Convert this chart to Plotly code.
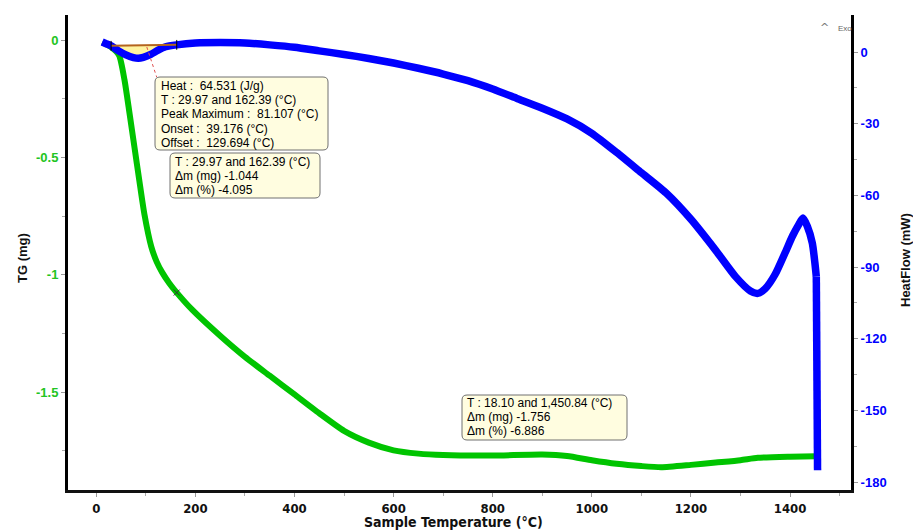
import numpy as np
import plotly.graph_objects as go

# ---- data ----
tg_temp = [12, 30, 46, 57, 67, 77, 87, 97, 111, 122, 133, 147, 162, 194, 250, 300, 350, 400,
           450, 500, 550, 600, 650, 700, 800, 900, 950, 1000, 1050, 1100, 1140, 1200, 1250,
           1300, 1335, 1400, 1452]
tg_mg = [-0.01, -0.03, -0.065, -0.17, -0.31, -0.455, -0.6, -0.74, -0.88, -0.945, -0.99, -1.035,
         -1.075, -1.15, -1.26, -1.35, -1.43, -1.51, -1.59, -1.665, -1.715, -1.748, -1.762,
         -1.768, -1.77, -1.766, -1.772, -1.79, -1.805, -1.815, -1.82, -1.81, -1.80, -1.79,
         -1.78, -1.775, -1.773]

hf_temp = [12, 20, 30, 45, 60, 75, 85, 95, 110, 125, 140, 162, 200, 250, 300, 350, 400, 450,
           500, 550, 600, 650, 700, 750, 800, 850, 900, 950, 1000, 1050, 1100, 1150, 1200,
           1250, 1290, 1320, 1335, 1350, 1370, 1390, 1405, 1418, 1426, 1435, 1445, 1450,
           1453, 1454, 1455, 1455.5]
hf_mw = [4.2, 3.5, 2.6, 0.5, -1.2, -2.3, -2.6, -2.2, -1.0, 0.8, 2.2, 3.0, 3.8, 4.0, 3.8, 3.0,
         2.0, 0.5, -1.0, -2.7, -4.6, -6.8, -9.2, -12.0, -15.5, -19.5, -23.5, -28.0, -34.0,
         -42.0, -50.5, -59.0, -70.0, -83.0, -94.0, -100.0, -101.0, -99.0, -93.0, -84.0,
         -77.0, -72.0, -69.5, -73.0, -80.0, -88.0, -94.0, -130.0, -160.0, -175.0]

peak_limits = [29.97, 162.39]

x_ticks = [0, 200, 400, 600, 800, 1000, 1200, 1400]
tg_ticks = [0, -0.5, -1, -1.5]
tg_labels = ["0", "-0.5", "-1", "-1.5"]
hf_ticks = [0, -30, -60, -90, -120, -150, -180]
hf_labels = ["0", "-30", "-60", "-90", "-120", "-150", "-180"]

box1 = ["Heat :  64.531 (J/g)", "T : 29.97 and 162.39 (°C)", "Peak Maximum :  81.107 (°C)",
        "Onset :  39.176 (°C)", "Offset :  129.694 (°C)"]
box2 = ["T : 29.97 and 162.39 (°C)", "Δm (mg) -1.044", "Δm (%) -4.095"]
box3 = ["T : 18.10 and 1,450.84 (°C)", "Δm (mg) -1.756", "Δm (%) -6.886"]

GREEN = "#00c400"
GREEN_T = "#22c422"
BLUE = "#0000ff"

# plot-area geometry in pixels (used only to place boxes/labels)
L, R, T, B = 68, 851, 15, 490
PW, PH = R - L, B - T


def px(xp):
    return (xp - L) / PW


def py(yp):
    return (B - yp) / PH


fig = go.Figure()

# peak integration area (yellow) between curve and baseline
ht = np.array(hf_temp)
hv = np.array(hf_mw)
b0 = float(np.interp(peak_limits[0], ht, hv))
b1 = float(np.interp(peak_limits[1], ht, hv))
inside = (ht > peak_limits[0]) & (ht < peak_limits[1])
poly_x = [peak_limits[0]] + list(ht[inside]) + [peak_limits[1], peak_limits[0]]
poly_y = [b0] + list(hv[inside]) + [b1, b0]
fig.add_trace(go.Scatter(x=poly_x, y=poly_y, yaxis="y2", mode="lines", fill="toself",
                         fillcolor="#fff3a0", line=dict(width=0, shape="spline", smoothing=0.6),
                         hoverinfo="skip", showlegend=False))

fig.add_trace(go.Scatter(x=tg_temp, y=tg_mg, mode="lines", line=dict(color=GREEN, width=6,
                         shape="spline", smoothing=0.6), showlegend=False))
n_smooth = hf_temp.index(1453) + 1
fig.add_trace(go.Scatter(x=hf_temp[:n_smooth], y=hf_mw[:n_smooth], yaxis="y2", mode="lines",
                         line=dict(color=BLUE, width=7.5, shape="spline", smoothing=0.6),
                         showlegend=False))
fig.add_trace(go.Scatter(x=hf_temp[n_smooth - 1:], y=hf_mw[n_smooth - 1:], yaxis="y2",
                         mode="lines", line=dict(color=BLUE, width=7.5), showlegend=False))

# baseline of the peak
fig.add_trace(go.Scatter(x=peak_limits, y=[b0, b1], yaxis="y2", mode="lines+markers",
                         line=dict(color="#b4641e", width=2),
                         marker=dict(symbol="line-ns", size=7, line=dict(color="black", width=1)),
                         showlegend=False))
# step marker on the TG curve
tg162 = float(np.interp(peak_limits[1], tg_temp, tg_mg))
fig.add_trace(go.Scatter(x=[peak_limits[1]], y=[tg162], mode="markers",
                         marker=dict(symbol="x-thin", size=6, line=dict(color="#333", width=1)),
                         showlegend=False))

# leader line (red dotted)
fig.add_shape(type="line", xref="x", yref="y2", x0=102, y0=2.1, x1=122, y1=-10.5,
              line=dict(color="#e05050", width=1, dash="dot"))

box_font = dict(family="Liberation Sans, Arial, sans-serif", size=12, color="#000")


def rounded_box(x0, y0, x1, y1, r=5):
    a0, a1 = px(x0), px(x1)
    c0, c1 = py(y0), py(y1)  # c0 top, c1 bottom (paper)
    rx, ry = r / PW, r / PH
    path = (f"M {a0 + rx},{c0} L {a1 - rx},{c0} Q {a1},{c0} {a1},{c0 - ry} "
            f"L {a1},{c1 + ry} Q {a1},{c1} {a1 - rx},{c1} L {a0 + rx},{c1} "
            f"Q {a0},{c1} {a0},{c1 + ry} L {a0},{c0 - ry} Q {a0},{c0} {a0 + rx},{c0} Z")
    fig.add_shape(type="path", xref="paper", yref="paper", path=path,
                  fillcolor="#fffde0", line=dict(color="#707070", width=1), layer="above")


def add_box(lines, x0, y0, x1, y1, tx, ty0, dy=14.2):
    rounded_box(x0, y0, x1, y1)
    for i, s in enumerate(lines):
        fig.add_annotation(text=s, xref="paper", yref="paper", x=px(tx), y=py(ty0 + i * dy),
                           xanchor="left", yanchor="middle", showarrow=False, font=box_font)


add_box(box1, 155, 77, 328, 150, 159, 86)
add_box(box2, 170, 153, 320, 198, 173, 162)
add_box(box3, 462, 395, 627, 440, 465, 403)

title_font = dict(family="Liberation Sans, Arial, sans-serif", size=13, color="#111")
fig.add_annotation(text="<b>TG (mg)</b>", xref="paper", yref="paper", x=px(22), y=py(258),
                   xanchor="center", yanchor="middle", textangle=-90, showarrow=False,
                   font=title_font)
fig.add_annotation(text="<b>HeatFlow (mW)</b>", xref="paper", yref="paper", x=px(905),
                   y=py(260), xanchor="center", yanchor="middle", textangle=-90,
                   showarrow=False, font=title_font)
fig.add_annotation(text="<b>Sample Temperature (°C)</b>", xref="paper", yref="paper",
                   x=px(453), y=py(522), xanchor="center", yanchor="middle", showarrow=False,
                   font=dict(family="DejaVu Sans Condensed, Liberation Sans", size=14,
                             color="#111"))
fig.add_annotation(text="^", xref="paper", yref="paper", x=px(824), y=py(27),
                   xanchor="center", yanchor="middle", showarrow=False,
                   font=dict(family="DejaVu Sans", size=11, color="#777"))
fig.add_annotation(text="Exo", xref="paper", yref="paper", x=px(836), y=py(28),
                   xanchor="left", yanchor="middle", showarrow=False,
                   font=dict(family="Liberation Sans, Arial", size=8, color="#666"))

fig.update_layout(
    width=913, height=532, margin=dict(l=L, r=913 - R, t=T, b=532 - B),
    plot_bgcolor="white", paper_bgcolor="white", showlegend=False,
    xaxis=dict(range=[-57, 1523], tickmode="array", tickvals=x_ticks,
               ticktext=[str(v) for v in x_ticks], showgrid=False, zeroline=False,
               showline=True, linecolor="#111", linewidth=3, ticks="outside", ticklen=4,
               tickcolor="#999",
               minor=dict(tickmode="array", tickvals=[-100, 100, 300, 500, 700, 900, 1100,
                                                       1300, 1500],
                          ticks="outside", ticklen=3, tickcolor="#aaa"),
               tickfont=dict(family="DejaVu Sans Condensed, Liberation Sans",
                             size=13, color="#111", weight="bold")),
    yaxis=dict(range=[-1.917, 0.1065], tickmode="array", tickvals=tg_ticks, ticktext=tg_labels,
               showgrid=False, zeroline=False, showline=True, linecolor="#000", linewidth=3,
               ticks="outside", ticklen=4, tickcolor="#999",
               minor=dict(tickmode="array", tickvals=[-0.25, -0.75, -1.25, -1.75],
                          ticks="outside", ticklen=3, tickcolor="#aaa"),
               tickfont=dict(family="Liberation Sans, Arial", size=13, color=GREEN_T,
                             weight="bold")),
    yaxis2=dict(range=[-183.3, 15.5], overlaying="y", side="right", tickmode="array",
                tickvals=hf_ticks, ticktext=hf_labels, showgrid=False, zeroline=False,
                showline=True, linecolor="#000", linewidth=3, ticks="outside", ticklen=4,
                tickcolor="#999",
                minor=dict(tickmode="array", tickvals=[-15, -45, -75, -105, -135, -165],
                           ticks="outside", ticklen=3, tickcolor="#aaa"),
                tickfont=dict(family="Liberation Sans, Arial", size=13, color=BLUE,
                              weight="bold")),
)

fig.write_html("out.html")
